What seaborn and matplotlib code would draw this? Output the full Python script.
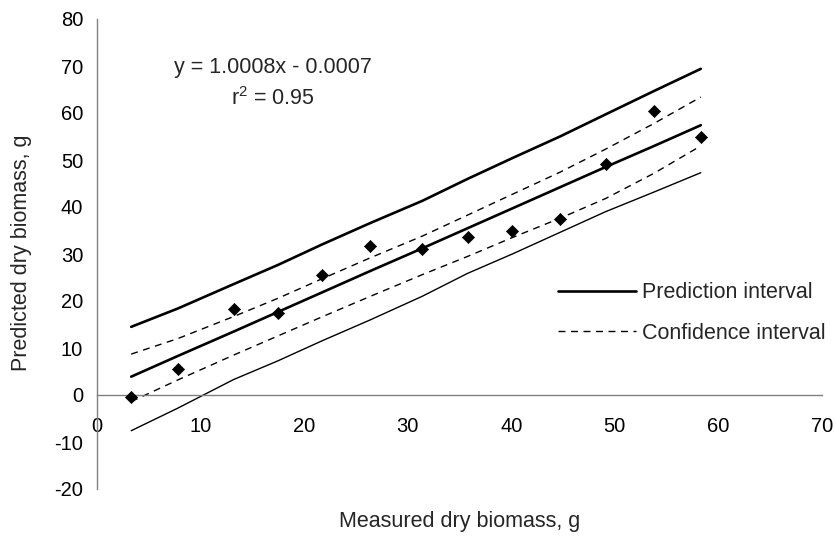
import matplotlib
matplotlib.use("Agg")
import matplotlib.pyplot as plt
import seaborn as sns
import pandas as pd
from matplotlib.lines import Line2D

# Data
measured = [3.3, 7.8, 13.2, 17.5, 21.7, 26.4, 31.4, 35.8, 40.1, 44.7, 49.1, 53.8, 58.3]
predicted = [-0.4, 5.5, 18.4, 17.5, 25.6, 31.6, 31.1, 33.7, 35.0, 37.5, 49.1, 60.5, 55.0]
fitted = [3.9, 8.3, 13.5, 17.7, 21.8, 26.4, 31.2, 35.5, 39.7, 44.2, 48.5, 53.0, 57.4]
pi_upper = [14.5, 18.4, 23.6, 27.7, 32.0, 36.6, 41.3, 46.0, 50.4, 55.0, 59.7, 64.7, 69.4]
pi_lower = [-7.6, -2.8, 3.3, 7.3, 11.5, 16.0, 21.0, 25.9, 30.0, 34.6, 39.0, 43.2, 47.3]
ci_upper = [8.7, 12.0, 16.7, 20.6, 24.7, 29.2, 33.8, 38.3, 42.7, 47.4, 52.3, 57.8, 63.4]
ci_lower = [-1.4, 3.2, 8.5, 12.6, 16.6, 21.0, 25.6, 29.5, 33.5, 37.6, 41.8, 47.2, 53.0]

x_ticks = [0, 10, 20, 30, 40, 50, 60, 70]
y_ticks = [-20, -10, 0, 10, 20, 30, 40, 50, 60, 70, 80]

equation_text = "y = 1.0008x - 0.0007"
r2_text = "r$^2$ = 0.95"
legend_labels = ["Prediction interval", "Confidence interval"]
x_label = "Measured dry biomass, g"
y_label = "Predicted dry biomass, g"

df = pd.DataFrame({
    "x": measured, "y": predicted, "fit": fitted,
    "pi_u": pi_upper, "pi_l": pi_lower, "ci_u": ci_upper, "ci_l": ci_lower,
})

sns.set_style("white")
plt.rcParams["font.family"] = ["Liberation Sans", "DejaVu Sans"]
plt.rcParams["mathtext.fontset"] = "custom"
plt.rcParams["mathtext.rm"] = "Liberation Sans"

fig = plt.figure(figsize=(8.36, 5.42), dpi=100)
ax = fig.add_axes([97 / 836, 1 - 489 / 542, (822 - 97) / 836, (489 - 19) / 542])

fs_tick = 14.5
fs = 15.5
sns.lineplot(data=df, x="x", y="pi_u", ax=ax, color="black", lw=1.9)
sns.lineplot(data=df, x="x", y="pi_l", ax=ax, color="black", lw=1.0)
sns.lineplot(data=df, x="x", y="fit", ax=ax, color="black", lw=1.9)
sns.lineplot(data=df, x="x", y="ci_u", ax=ax, color="black", lw=1.0)
sns.lineplot(data=df, x="x", y="ci_l", ax=ax, color="black", lw=1.0)
for ln in ax.lines[3:5]:
    ln.set_dashes((5, 4))
sns.scatterplot(data=df, x="x", y="y", ax=ax, marker="D", color="black", s=38,
                edgecolor="black", linewidth=0.5, zorder=5)

ax.set_xlim(0, 70)
ax.set_ylim(-20, 80)
ax.set_xticks(x_ticks)
ax.set_yticks(y_ticks)
ax.set_xticklabels([str(v) for v in x_ticks])
ax.set_yticklabels([str(v) for v in y_ticks])

axis_color = "#808080"
for s in ["top", "right"]:
    ax.spines[s].set_visible(False)
ax.spines["bottom"].set_position(("data", 0))
ax.spines["bottom"].set_color(axis_color)
ax.spines["left"].set_color(axis_color)
ax.spines["bottom"].set_linewidth(1.0)
ax.spines["left"].set_linewidth(1.0)
ax.tick_params(axis="x", direction="out", length=5, width=1, color=axis_color,
               pad=11, labelsize=fs_tick, labelcolor="black")
ax.tick_params(axis="y", direction="out", length=5, width=1, color=axis_color,
               pad=5, labelsize=fs_tick, labelcolor="black")

ax.set_xlabel("")
ax.set_ylabel("")
fig.text(460 / 836, 1 - 522 / 542, x_label, ha="center", va="center", fontsize=fs)
fig.text(22 / 836, 1 - 253 / 542, y_label, ha="center", va="center", rotation=90, fontsize=fs)

fig.text(273 / 836, 1 - 67 / 542, equation_text, ha="center", va="center", fontsize=fs)
fig.text(273 / 836, 1 - 99 / 542, r2_text, ha="center", va="center", fontsize=fs)

handles = [Line2D([], [], color="black", lw=1.9),
           Line2D([], [], color="black", lw=1.0, dashes=(5, 4))]
leg = ax.legend(handles, legend_labels, loc="center left",
                bbox_to_anchor=(558 / 836, 1 - 313 / 542), bbox_transform=fig.transFigure,
                frameon=False, fontsize=fs, handlelength=3.6, handletextpad=0.3,
                labelspacing=0.9, borderpad=0, borderaxespad=0)

fig.savefig("out.png", dpi=100)
